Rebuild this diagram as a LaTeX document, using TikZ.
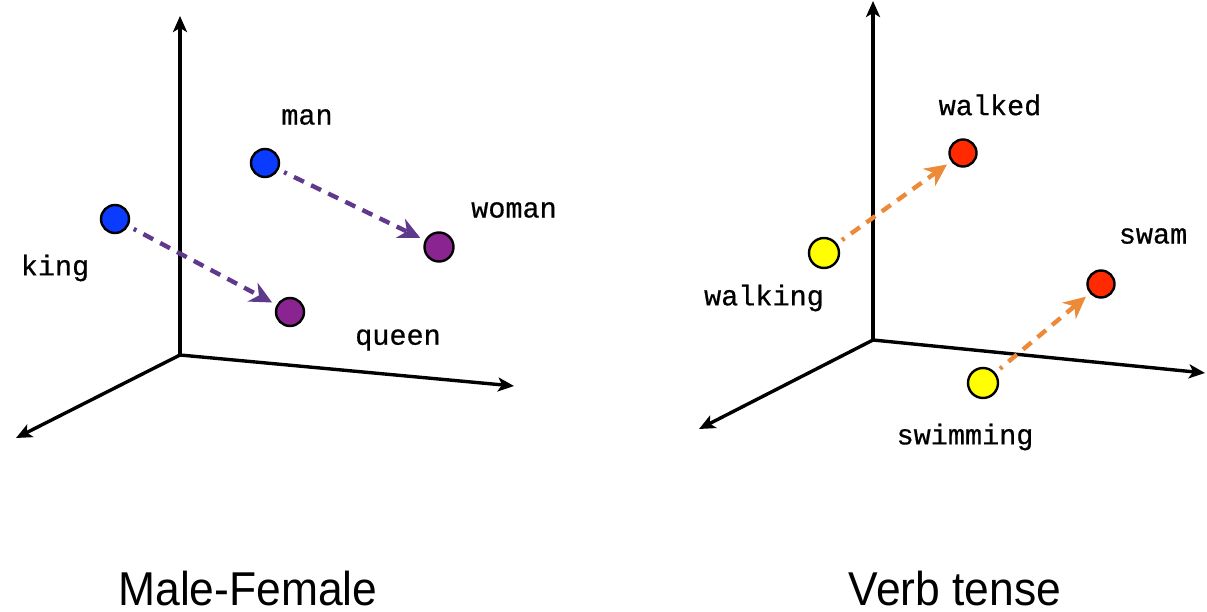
\documentclass[tikz,border=0pt]{standalone}
\usepackage{fontspec}
\setmainfont{Liberation Sans}
\newfontfamily\wordfont[FakeBold=0.6]{Liberation Mono}
\newfontfamily\titlefont{Liberation Sans}
\usetikzlibrary{arrows.meta}
\definecolor{dotblue}{HTML}{0A3BFF}
\definecolor{dotpurple}{HTML}{8A2490}
\definecolor{arrpurple}{HTML}{5F3A8C}
\definecolor{dotyellow}{HTML}{FFFF00}
\definecolor{dotred}{HTML}{FF2A00}
\definecolor{arrorange}{HTML}{EC8A38}
\tikzset{
  axis/.style={line width=3.4pt, -{Stealth[length=16pt,width=14pt,inset=4pt]}},
  dot/.style={circle, draw=black, line width=2.4pt, minimum size=28pt, inner sep=0pt},
  word/.style={font=\wordfont\fontsize{28.5}{28.5}\selectfont, inner sep=0pt},
  title/.style={font=\titlefont\fontsize{47.5}{47.5}\selectfont, inner sep=0pt, xscale=0.935, anchor=base},
  moveline/.style={dash pattern=on 11pt off 8pt, dash phase=8pt, line width=4.4pt,
    shorten <=6pt, shorten >=5pt, -{Stealth[length=22pt,width=21pt,inset=7pt]}},
}
\begin{document}
\begin{tikzpicture}[x=1pt,y=-1pt]
\useasboundingbox (0,0) rectangle (1207,612);

% left panel: axes
\coordinate (O1) at (180,355);
\coordinate (Y1) at (180,16);
\coordinate (X1) at (514,386);
\coordinate (Z1) at (16,438);
\draw[axis] (O1) -- (Y1);
\draw[axis] (O1) -- (X1);
\draw[axis] (O1) -- (Z1);

% left panel: points
\node[dot, fill=dotblue] (man) at (265,163) {};
\node[dot, fill=dotblue] (king) at (115,219) {};
\node[dot, fill=dotpurple, minimum size=29pt] (woman) at (439,247) {};
\node[dot, fill=dotpurple] (queen) at (290,312) {};
\node[word] (lman) at (307,117) {man};
\node[word] (lking) at (55,268) {king};
\node[word] (lwoman) at (514,210) {woman};
\node[word] (lqueen) at (398,340) {queen};
\draw[moveline, arrpurple] (man) -- (woman);
\draw[moveline, arrpurple] (king) -- (queen);

% right panel: axes
\coordinate (O2) at (873,340);
\coordinate (Y2) at (873,1);
\coordinate (X2) at (1205,373);
\coordinate (Z2) at (699,429);
\draw[axis] (O2) -- (Y2);
\draw[axis] (O2) -- (X2);
\draw[axis] (O2) -- (Z2);

% right panel: points
\node[dot, fill=dotred, minimum size=27pt] (walked) at (963,153) {};
\node[dot, fill=dotyellow, minimum size=30pt] (walking) at (824,253) {};
\node[dot, fill=dotred, minimum size=27pt] (swam) at (1101,284) {};
\node[dot, fill=dotyellow, minimum size=30pt] (swimming) at (983,383) {};
\node[word] (lwalked) at (990,105) {walked};
\node[word] (lwalking) at (764,298) {walking};
\node[word] (lswam) at (1153,236) {swam};
\node[word] (lswimming) at (965,437) {swimming};
\draw[moveline, arrorange] (walking) -- (walked);
\draw[moveline, arrorange] (swimming) -- (swam);

% captions
\node[title] (t1) at (248,605) {Male-Female};
\node[title] (t2) at (955,605) {Verb tense};
\end{tikzpicture}
\end{document}
